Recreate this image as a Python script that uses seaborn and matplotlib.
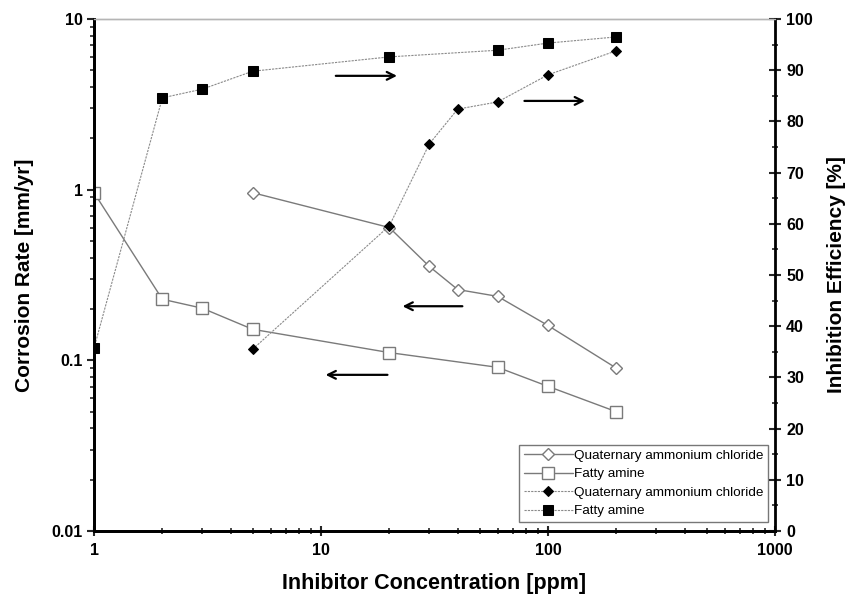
import matplotlib
matplotlib.use("Agg")
import matplotlib.pyplot as plt
import matplotlib.ticker as mticker
import seaborn as sns
import pandas as pd

# ---- data ----
conc_qac = [5, 20, 30, 40, 60, 100, 200]
conc_fa = [1, 2, 3, 5, 20, 60, 100, 200]
cr_qac = [0.96, 0.60, 0.355, 0.26, 0.237, 0.16, 0.09]
cr_fa = [0.96, 0.228, 0.202, 0.152, 0.111, 0.091, 0.0704, 0.050]
ie_qac = [35.5, 59.6, 75.6, 82.4, 83.8, 89.1, 93.8]
ie_fa = [35.7, 84.6, 86.3, 89.8, 92.6, 93.9, 95.3, 96.5]
left_ticks = [0.01, 0.1, 1, 10]
left_labels = ["0.01", "0.1", "1", "10"]
x_ticks = [1, 10, 100, 1000]
x_labels = ["1", "10", "100", "1000"]
right_ticks = list(range(0, 101, 10))
label_qac = "Quaternary ammonium chloride"
label_fa = "Fatty amine"

sns.set_theme(style="white")
plt.rcParams["font.family"] = ["Liberation Sans", "DejaVu Sans"]
plt.rcParams["axes.labelcolor"] = "black"
plt.rcParams["text.color"] = "black"

fig = plt.figure(figsize=(8.46, 5.95), dpi=100)
ax = fig.add_axes([94 / 846, 1 - 531 / 595, 681 / 846, 512 / 595])
ax2 = ax.twinx()

gray = "#7a7a7a"
df_cq = pd.DataFrame({"x": conc_qac, "y": cr_qac})
df_cf = pd.DataFrame({"x": conc_fa, "y": cr_fa})
df_iq = pd.DataFrame({"x": conc_qac, "y": ie_qac})
df_if = pd.DataFrame({"x": conc_fa, "y": ie_fa})

sns.lineplot(data=df_cq, x="x", y="y", ax=ax, color=gray, lw=1.0, marker="D",
             markersize=6.5, markerfacecolor="white", markeredgecolor=gray,
             markeredgewidth=1.0, label=label_qac, legend=False)
sns.lineplot(data=df_cf, x="x", y="y", ax=ax, color=gray, lw=1.0, marker="s",
             markersize=8.5, markerfacecolor="white", markeredgecolor=gray,
             markeredgewidth=1.0, label=label_fa, legend=False)
sns.lineplot(data=df_iq, x="x", y="y", ax=ax2, color="#8a8a8a", lw=0.8, marker="D",
             markersize=5, markerfacecolor="black", markeredgecolor="black",
             linestyle=(0, (2, 1)), label=label_qac, legend=False)
sns.lineplot(data=df_if, x="x", y="y", ax=ax2, color="#8a8a8a", lw=0.8, marker="s",
             markersize=7.5, markerfacecolor="black", markeredgecolor="black",
             linestyle=(0, (2, 1)), label=label_fa, legend=False)

ax.set_xscale("log")
ax.set_yscale("log")
ax.set_xlim(1, 1000)
ax.set_ylim(0.01, 10)
ax2.set_ylim(0, 100)

ax.xaxis.set_major_locator(mticker.FixedLocator(x_ticks))
ax.xaxis.set_major_formatter(mticker.FixedFormatter(x_labels))
ax.xaxis.set_minor_locator(mticker.LogLocator(base=10, subs=range(2, 10)))
ax.xaxis.set_minor_formatter(mticker.NullFormatter())
ax.yaxis.set_major_locator(mticker.FixedLocator(left_ticks))
ax.yaxis.set_major_formatter(mticker.FixedFormatter(left_labels))
ax.yaxis.set_minor_locator(mticker.LogLocator(base=10, subs=range(2, 10)))
ax.yaxis.set_minor_formatter(mticker.NullFormatter())
ax2.yaxis.set_major_locator(mticker.FixedLocator(right_ticks))
ax2.yaxis.set_minor_locator(mticker.MultipleLocator(5))

for lab in ax.get_xticklabels() + ax.get_yticklabels() + ax2.get_yticklabels():
    lab.set_fontsize(11.5)
    lab.set_fontweight("bold")
    lab.set_color("black")

ax.tick_params(axis="x", which="major", direction="inout", length=7, width=1.5, pad=5, bottom=True)
ax.tick_params(axis="x", which="minor", direction="inout", length=4, width=1.2, bottom=True)
ax.tick_params(axis="y", which="major", direction="out", length=5, width=1.5, pad=3, left=True)
ax.tick_params(axis="y", which="minor", direction="out", length=3, width=1.2, left=True)
ax2.tick_params(axis="y", which="major", direction="inout", length=8, width=1.5, pad=4, right=True)
ax2.tick_params(axis="y", which="minor", direction="inout", length=5, width=1.2, right=True)

for a in (ax, ax2):
    for s in ("left", "bottom", "right"):
        a.spines[s].set_color("black")
        a.spines[s].set_linewidth(2.0)
    a.spines["top"].set_color("#b5b5b5")
    a.spines["top"].set_linewidth(1.0)
ax.spines["right"].set_visible(False)

ax.set_xlabel("Inhibitor Concentration [ppm]", fontsize=15.5, fontweight="bold",
              labelpad=11, color="black")
ax.set_ylabel("Corrosion Rate [mm/yr]", fontsize=15, fontweight="bold",
              labelpad=13, color="black")
ax2.set_ylabel("Inhibition Efficiency [%]", fontsize=15, fontweight="bold",
               labelpad=10, color="black")

arrows = [((0.351, 0.889), (0.449, 0.889)),
          ((0.628, 0.840), (0.725, 0.840)),
          ((0.545, 0.439), (0.449, 0.439)),
          ((0.435, 0.305), (0.336, 0.305))]
for start, end in arrows:
    ax2.annotate("", xy=end, xytext=start, xycoords="axes fraction",
                 textcoords="axes fraction",
                 arrowprops=dict(arrowstyle="->", lw=1.6, color="black",
                                 mutation_scale=14))

h1, l1 = ax.get_legend_handles_labels()
h2, l2 = ax2.get_legend_handles_labels()
leg = ax2.legend(h1 + h2, l1 + l2, loc="lower right",
                 bbox_to_anchor=(0.9897, 0.0176), borderaxespad=0,
                 fontsize=9.7, frameon=True,
                 fancybox=False, edgecolor="#555555", handlelength=3.6,
                 handletextpad=0.1, labelspacing=0.45, borderpad=0.35)
leg.get_frame().set_linewidth(1.0)
for t in leg.get_texts():
    t.set_color("black")

fig.savefig("out.png", dpi=100)
